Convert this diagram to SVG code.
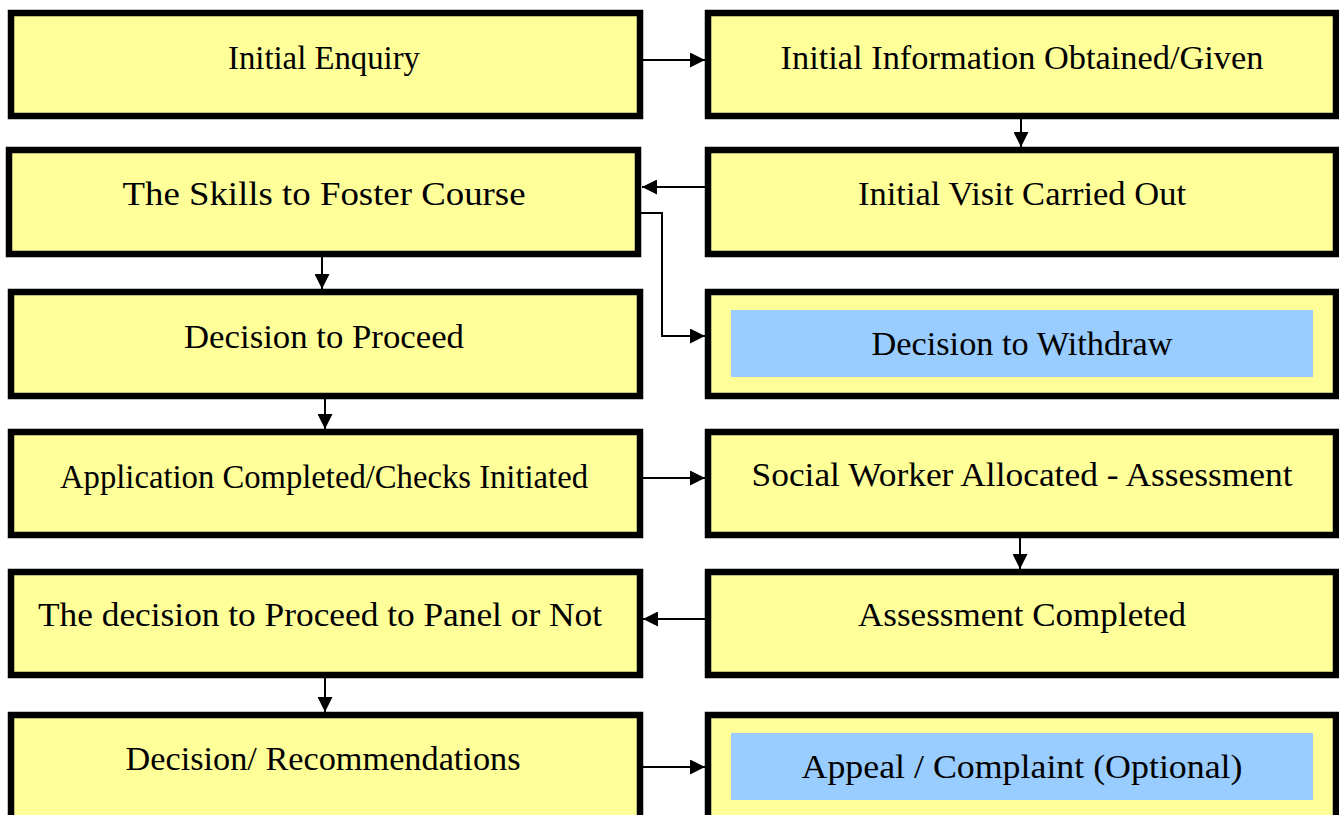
<svg xmlns="http://www.w3.org/2000/svg" width="1339" height="815" viewBox="0 0 1339 815">
  <style>
    .box { fill: #ffff99; stroke: #000; stroke-width: 6.5; }
    .inner { fill: #99ccff; stroke: none; }
    .label { font-family: "Liberation Serif", "DejaVu Serif", serif; font-size: 34px; fill: #000; text-anchor: middle; }
    .link { fill: none; stroke: #000; stroke-width: 2; }
  </style>
  <defs>
    <marker id="arrow" viewBox="0 0 10 10" refX="10" refY="5" markerWidth="7.5" markerHeight="7.5" markerUnits="strokeWidth" orient="auto">
      <path d="M0,0 L10,5 L0,10 Z" fill="#000"/>
    </marker>
  </defs>
  <rect width="1339" height="815" fill="#fff"/>

  <!-- process steps, left column -->
  <g id="initial-enquiry">
    <rect class="box" x="11" y="13" width="629" height="103"/>
    <text class="label" x="324" y="69" textLength="192" lengthAdjust="spacingAndGlyphs">Initial Enquiry</text>
  </g>
  <g id="skills-to-foster">
    <rect class="box" x="9" y="150" width="629" height="104"/>
    <text class="label" x="324" y="205" textLength="403" lengthAdjust="spacingAndGlyphs">The Skills to Foster Course</text>
  </g>
  <g id="decision-to-proceed">
    <rect class="box" x="11" y="292" width="629" height="104"/>
    <text class="label" x="324" y="348" textLength="280" lengthAdjust="spacingAndGlyphs">Decision to Proceed</text>
  </g>
  <g id="application-completed">
    <rect class="box" x="11" y="432" width="629" height="103"/>
    <text class="label" x="324" y="488" textLength="528" lengthAdjust="spacingAndGlyphs">Application Completed/Checks Initiated</text>
  </g>
  <g id="proceed-to-panel">
    <rect class="box" x="11" y="572" width="629" height="103"/>
    <text class="label" x="320" y="626" textLength="564" lengthAdjust="spacingAndGlyphs">The decision to Proceed to Panel or Not</text>
  </g>
  <g id="recommendations">
    <rect class="box" x="11" y="715" width="629" height="110"/>
    <text class="label" x="323" y="770" textLength="395" lengthAdjust="spacingAndGlyphs">Decision/ Recommendations</text>
  </g>

  <!-- process steps, right column -->
  <g id="initial-information">
    <rect class="box" x="708" y="13" width="628" height="103"/>
    <text class="label" x="1022" y="69" textLength="483" lengthAdjust="spacingAndGlyphs">Initial Information Obtained/Given</text>
  </g>
  <g id="initial-visit">
    <rect class="box" x="708" y="150" width="628" height="104"/>
    <text class="label" x="1022" y="205" textLength="328" lengthAdjust="spacingAndGlyphs">Initial Visit Carried Out</text>
  </g>
  <g id="decision-to-withdraw">
    <rect class="box" x="708" y="292" width="628" height="104"/>
    <rect class="inner" x="731" y="310" width="582" height="67"/>
    <text class="label" x="1022" y="355" textLength="301" lengthAdjust="spacingAndGlyphs">Decision to Withdraw</text>
  </g>
  <g id="social-worker-allocated">
    <rect class="box" x="708" y="432" width="628" height="103"/>
    <text class="label" x="1022" y="486" textLength="541" lengthAdjust="spacingAndGlyphs">Social Worker Allocated - Assessment</text>
  </g>
  <g id="assessment-completed">
    <rect class="box" x="708" y="572" width="628" height="103"/>
    <text class="label" x="1022" y="626" textLength="328" lengthAdjust="spacingAndGlyphs">Assessment Completed</text>
  </g>
  <g id="appeal-complaint">
    <rect class="box" x="708" y="715" width="628" height="110"/>
    <rect class="inner" x="731" y="733" width="582" height="67"/>
    <text class="label" x="1022" y="778" textLength="441" lengthAdjust="spacingAndGlyphs">Appeal / Complaint (Optional)</text>
  </g>

  <!-- connectors -->
  <g id="connectors">
    <path class="link" d="M643,60 H705" marker-end="url(#arrow)"/>
    <path class="link" d="M1021,119 V147" marker-end="url(#arrow)"/>
    <path class="link" d="M705,187 H642" marker-end="url(#arrow)"/>
    <path class="link" d="M322,257 V289" marker-end="url(#arrow)"/>
    <path class="link" d="M641,213 H662 V336 H705" marker-end="url(#arrow)"/>
    <path class="link" d="M325,399 V429" marker-end="url(#arrow)"/>
    <path class="link" d="M643,478 H705" marker-end="url(#arrow)"/>
    <path class="link" d="M1020,538 V569" marker-end="url(#arrow)"/>
    <path class="link" d="M705,619 H643" marker-end="url(#arrow)"/>
    <path class="link" d="M325,678 V712" marker-end="url(#arrow)"/>
    <path class="link" d="M643,767 H705" marker-end="url(#arrow)"/>
  </g>
</svg>
